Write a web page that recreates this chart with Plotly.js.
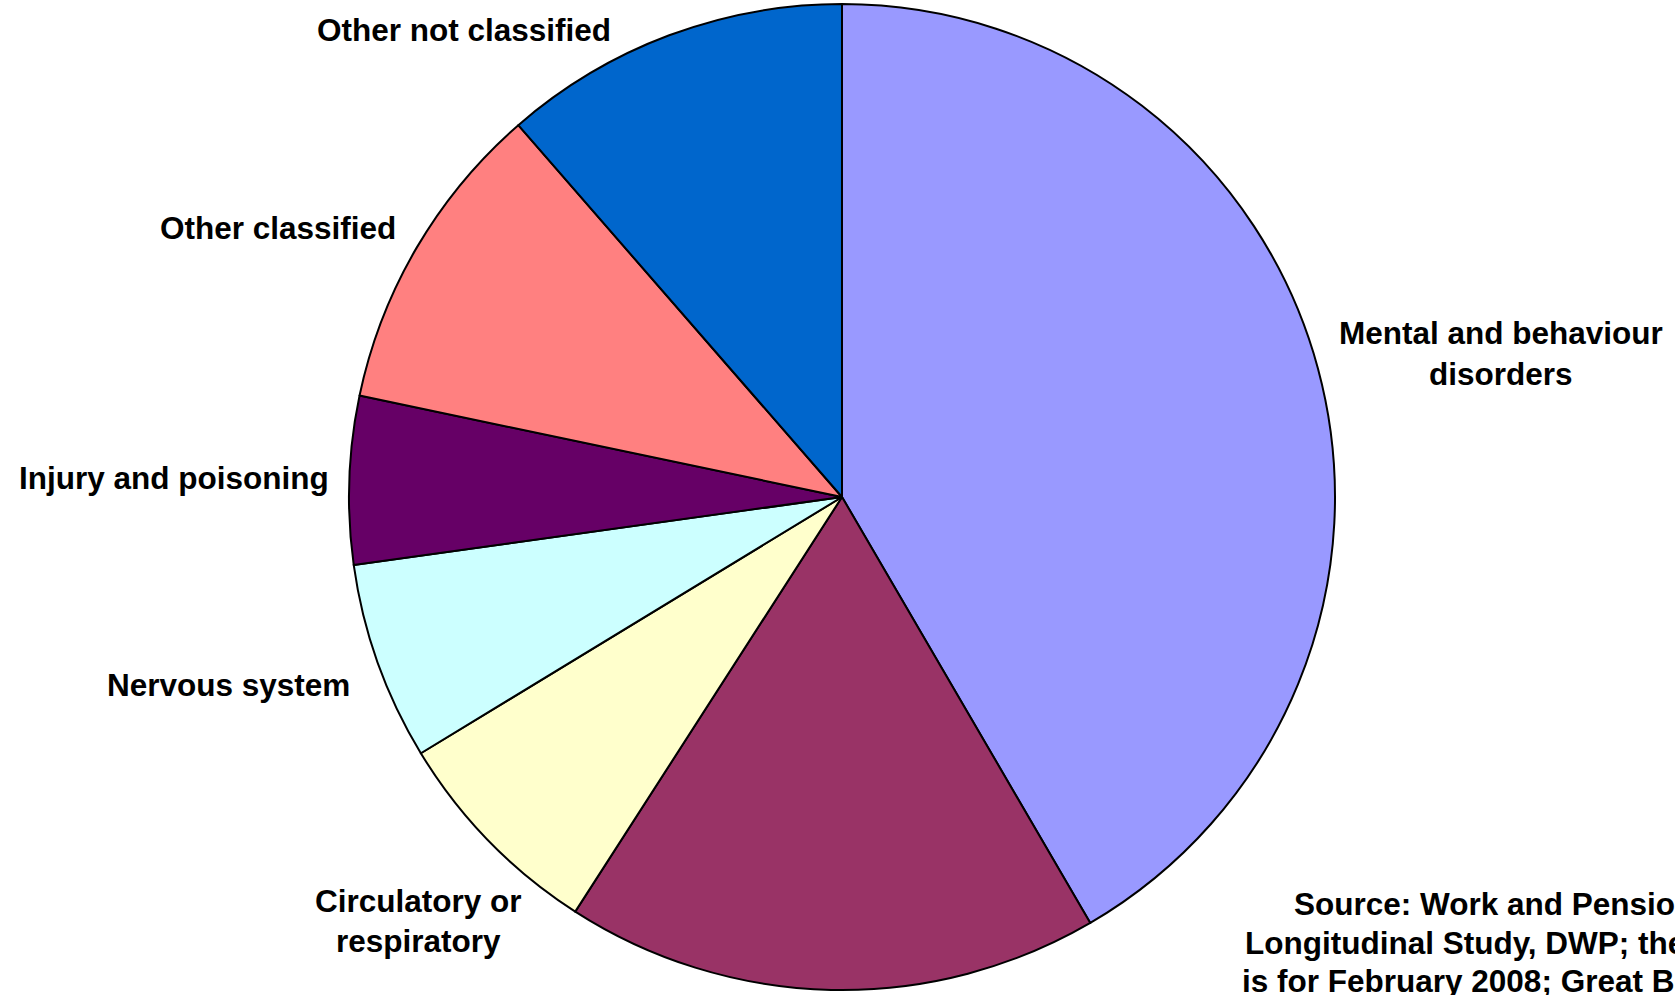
<!DOCTYPE html>
<html>
<head>
<meta charset="utf-8">
<script src="https://cdn.plot.ly/plotly-3.0.1.min.js"></script>
<style>
  html, body { margin: 0; padding: 0; overflow: hidden; background: #ffffff; }
  #chart { width: 1675px; height: 995px; }
</style>
</head>
<body>
<div id="chart"></div>
<script>
// Data (percent shares), clockwise from 12 o'clock
const categories = [
  "Mental and behaviour disorders",
  "Musculoskeletal",
  "Circulatory or respiratory",
  "Nervous system",
  "Injury and poisoning",
  "Other classified",
  "Other not classified"
];
const shares = [41.6, 17.5, 7.2, 6.5, 5.5, 10.3, 11.4];
const sliceColors = ["#9999FF", "#993366", "#FFFFCC", "#CCFFFF", "#660066", "#FF8080", "#0066CC"];

// Visible label lines (text only)
const labelLines = [
  ["Other not classified"],
  ["Other classified"],
  ["Injury and poisoning"],
  ["Nervous system"],
  ["Circulatory or", "respiratory"],
  ["Mental and behaviour", "disorders"]
];
const sourceLines = [
  "Source: Work and Pensions",
  "Longitudinal Study, DWP; the data",
  "is for February 2008; Great Britain"
];

const W = 1675, H = 995;
const FONT = { family: "'Liberation Sans', Arial, sans-serif", size: 31.5, color: "#000000", weight: 700 };

// label placement (pixel centres)
const labelPos = [
  { x: 464, ys: [30] },
  { x: 278, ys: [228] },
  { x: 174, ys: [478] },
  { x: 228, ys: [685] },
  { x: 418, ys: [901, 941] },
  { x: 1501, ys: [333, 374] }
];
const sourcePos = { x: [1292, 1243, 1240], y: [904, 943, 981] };

const annotations = [];
labelLines.forEach((lines, i) => {
  lines.forEach((t, j) => {
    annotations.push({
      text: t, xref: "paper", yref: "paper",
      x: labelPos[i].x / W, y: 1 - labelPos[i].ys[j] / H,
      xanchor: "center", yanchor: "middle", showarrow: false, font: FONT
    });
  });
});
sourceLines.forEach((t, j) => {
  annotations.push({
    text: t, xref: "paper", yref: "paper",
    x: sourcePos.x[j] / W, y: 1 - sourcePos.y[j] / H,
    xanchor: "left", yanchor: "middle", showarrow: false, font: FONT
  });
});

const cx = 842, cy = 497, r = 493;
const trace = {
  type: "pie",
  labels: categories,
  values: shares,
  sort: false,
  direction: "clockwise",
  rotation: 0,
  textinfo: "none",
  hoverinfo: "label+percent",
  marker: { colors: sliceColors, line: { color: "#000000", width: 2 } },
  domain: {
    x: [(cx - r) / W, (cx + r) / W],
    y: [(H - cy - r) / H, (H - cy + r) / H]
  },
  showlegend: false
};

const layout = {
  width: W, height: H,
  margin: { l: 0, r: 0, t: 0, b: 0 },
  paper_bgcolor: "#ffffff",
  plot_bgcolor: "#ffffff",
  showlegend: false,
  annotations: annotations
};

Plotly.newPlot("chart", [trace], layout, { displayModeBar: false, staticPlot: true });
</script>
</body>
</html>
